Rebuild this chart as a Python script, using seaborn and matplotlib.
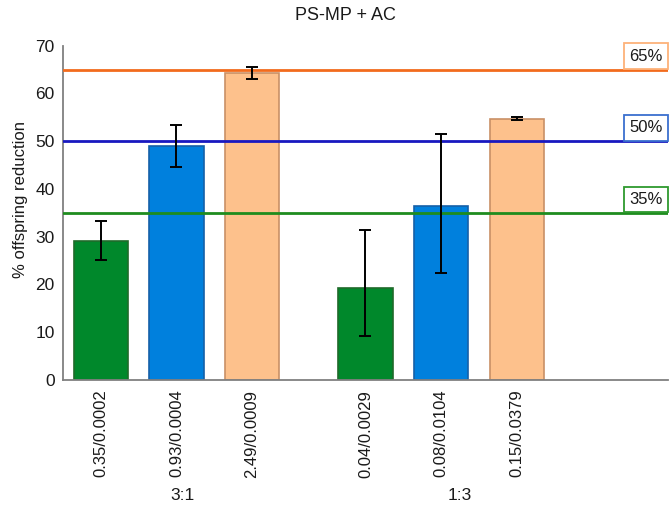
import matplotlib
matplotlib.use("Agg")
import matplotlib.pyplot as plt
import seaborn as sns
import pandas as pd

# ---- data ----
labels = ["0.35/0.0002", "0.93/0.0004", "2.49/0.0009",
          "0.04/0.0029", "0.08/0.0104", "0.15/0.0379"]
values = [29.1, 49.0, 64.2, 19.2, 36.5, 54.7]
err_low = [4.0, 4.4, 1.2, 9.9, 14.0, 0.3]
err_high = [4.1, 4.4, 1.4, 12.2, 14.9, 0.3]
levels = ["35%", "50%", "65%", "35%", "50%", "65%"]
groups = ["3:1", "1:3"]
thresholds = [65, 50, 35]
threshold_labels = ["65%", "50%", "35%"]

# ---- style ----
sns.set_style("white")
plt.rcParams['font.family'] = ['Liberation Sans', 'DejaVu Sans']

positions = [0, 1, 2, 3.5, 4.5, 5.5]
group_pos = [1.08, 4.74]
bar_colors = {"35%": "#00882B", "50%": "#0080DD", "65%": "#FDC18C"}
edge_colors = {"35%": "#1F6B2A", "50%": "#1560A8", "65%": "#C99066"}
line_colors = {"65%": "#F26B1D", "50%": "#1818C0", "35%": "#1E8C1E"}
box_colors = {"65%": "#FDB27A", "50%": "#3A6FCF", "35%": "#2E9A2E"}
txt = "#1a1a1a"

df = pd.DataFrame({"pos": positions, "value": values, "level": levels})

fig = plt.figure(figsize=(6.70, 5.07), dpi=100)
ax = fig.add_axes([0.094, 0.2505, 0.903, 0.6595])

sns.barplot(data=df, x="pos", y="value", hue="level", palette=bar_colors,
            native_scale=True, dodge=False, width=0.72, errorbar=None,
            saturation=1, legend=False, ax=ax)

for patch in ax.patches:
    cx = patch.get_x() + patch.get_width() / 2
    idx = min(range(len(positions)), key=lambda i: abs(positions[i] - cx))
    patch.set_edgecolor(edge_colors[levels[idx]])
    patch.set_linewidth(1.2)

ax.errorbar(positions, values, yerr=[err_low, err_high], fmt="none",
            ecolor="black", elinewidth=1.4, capsize=4.5, capthick=1.4, zorder=5)

for t, tl in zip(thresholds, threshold_labels):
    ax.axhline(t, color=line_colors[tl], lw=2.0, zorder=4)
    ax.annotate(tl, xy=(1, t), xycoords=("axes fraction", "data"),
                xytext=(-3.8, 4.2), textcoords="offset points",
                ha="right", va="bottom", fontsize=12, color=txt,
                bbox=dict(boxstyle="square,pad=0.32", fc="white",
                          ec=box_colors[tl], lw=1.3),
                annotation_clip=False, zorder=6)

ax.set_xlim(-0.5, 7.5)
ax.set_ylim(0, 70)
ax.set_yticks(range(0, 71, 10))
ax.set_xticks(positions)
ax.set_xticklabels(labels, rotation=90, fontsize=12, color=txt)
ax.tick_params(axis="y", labelsize=12.5, colors=txt)
ax.tick_params(axis="both", direction="in", length=4, color="#808080", width=1)
ax.tick_params(axis="x", pad=7)
ax.tick_params(axis="y", pad=6)
ax.set_xlabel("")
ax.set_ylabel("% offspring reduction", fontsize=12, color=txt)
ax.yaxis.set_label_coords(-0.058, 0.54)

for s in ["top", "right"]:
    ax.spines[s].set_visible(False)
for s in ["left", "bottom"]:
    ax.spines[s].set_color("#808080")
    ax.spines[s].set_linewidth(1.3)

for gp, g in zip(group_pos, groups):
    ax.text(gp, -0.345, g, transform=ax.get_xaxis_transform(),
            ha="center", va="center", fontsize=12.5, color=txt)

fig.text(345 / 670, 1 - 16 / 507, "PS-MP + AC", ha="center", va="center",
         fontsize=13, color=txt)

fig.savefig("out.png", dpi=100)
